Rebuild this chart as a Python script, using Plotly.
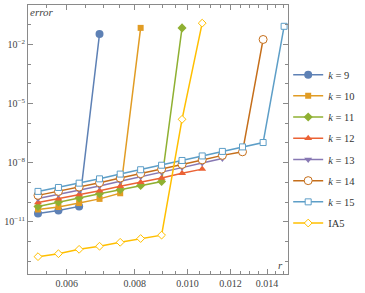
import plotly.graph_objects as go
import math

r_vals = [0.00531, 0.00579, 0.00632, 0.00689, 0.00752, 0.00820, 0.00896,
          0.00977, 0.01064, 0.01159, 0.01262, 0.01377, 0.01505]

err_k9 = [2.6e-11, 3.7e-11, 6.0e-11, 0.034]
err_k10 = [4.2e-11, 5.6e-11, 8.9e-11, 1.45e-10, 2.8e-10, 0.069]
err_k11 = [6.0e-11, 1.0e-10, 1.62e-10, 2.63e-10, 4.27e-10, 6.9e-10, 1.1e-9, 0.069]
err_k12 = [9.5e-11, 1.48e-10, 2.4e-10, 3.8e-10, 6.3e-10, 1.0e-9, 1.66e-9, 2.9e-9, 4.7e-9]
err_k13 = [1.51e-10, 2.4e-10, 3.98e-10, 6.6e-10, 1.15e-9, 1.9e-9, 3.24e-9, 5.6e-9, 9.5e-9, 1.62e-8]
err_k14 = [2.19e-10, 3.47e-10, 5.75e-10, 9.55e-10, 1.66e-9, 2.75e-9, 4.68e-9, 8.1e-9,
           1.38e-8, 2.34e-8, 3.55e-8, 0.0178]
err_k15 = [3.47e-10, 5.5e-10, 9.1e-10, 1.51e-9, 2.63e-9, 4.37e-9, 7.4e-9, 1.29e-8,
           2.19e-8, 3.72e-8, 6.3e-8, 1.05e-7, 0.083]
err_ia5 = [1.7e-13, 2.4e-13, 4.0e-13, 5.75e-13, 9.1e-13, 1.41e-12, 2.1e-12, 1.58e-6, 0.12]

series_names = ["<i>k</i> = 9", "<i>k</i> = 10", "<i>k</i> = 11", "<i>k</i> = 12",
                "<i>k</i> = 13", "<i>k</i> = 14", "<i>k</i> = 15", "IA5"]
series_vals = [err_k9, err_k10, err_k11, err_k12, err_k13, err_k14, err_k15, err_ia5]

x_tick_vals = [0.006, 0.008, 0.010, 0.012, 0.014]
x_tick_text = ["0.006", "0.008", "0.010", "0.012", "0.014"]
x_minor_vals = [0.0055, 0.0065, 0.007, 0.0075, 0.0085, 0.009, 0.0095, 0.0105,
                0.011, 0.0115, 0.0125, 0.013, 0.0135, 0.0145, 0.015]
y_tick_vals = [1e-2, 1e-5, 1e-8, 1e-11]
y_tick_text = ["10<sup>−2</sup>", "10<sup>−5</sup>", "10<sup>−8</sup>", "10<sup>−11</sup>"]
y_minor_vals = [10.0 ** (-e) for e in range(0, 14)]

colors = ["#5E81B5", "#E19C24", "#8FB032", "#EB6235", "#8778B3", "#C56E1A", "#5D9EC7", "#FFBF00"]
symbols = ["circle", "square", "diamond", "triangle-up", "triangle-down", "circle", "square", "diamond"]
sizes = [8, 6, 7, 7, 7, 8, 6, 6]
open_marker = [False, False, False, False, False, True, True, True]

fig = go.Figure()
for i, (name, vals) in enumerate(zip(series_names, series_vals)):
    c = colors[i]
    if open_marker[i]:
        marker = dict(symbol=symbols[i], size=sizes[i], color="white",
                      line=dict(color=c, width=1))
    else:
        marker = dict(symbol=symbols[i], size=sizes[i], color=c,
                      line=dict(color=c, width=0))
    fig.add_trace(go.Scatter(
        x=r_vals[:len(vals)], y=vals, mode="lines+markers", name=name,
        line=dict(color=c, width=1.5), marker=marker,
        legendgroup=f"g{i}",
    ))

axis_col = "#8a8a8a"
fig.update_layout(
    width=365, height=293,
    margin=dict(l=24, r=71, t=4, b=18),
    paper_bgcolor="white", plot_bgcolor="white",
    font=dict(family="Liberation Serif", size=10, color="#444"),
    showlegend=True,
    legend=dict(x=(370 - 24) / 270, xanchor="right", y=0.795, yanchor="top",
                font=dict(family="Liberation Serif", size=10.5, color="#333"),
                tracegroupgap=2.2, traceorder="grouped", bgcolor="rgba(0,0,0,0)"),
    xaxis=dict(type="log", range=[math.log10(0.00509), math.log10(0.0153)],
               showgrid=False, zeroline=False, showline=True, linecolor=axis_col,
               linewidth=1, mirror="ticks", ticks="inside", ticklen=5,
               tickcolor=axis_col, tickvals=x_tick_vals, ticktext=x_tick_text,
               tickfont=dict(family="Liberation Serif", size=10, color="#444"),
               minor=dict(tickvals=x_minor_vals, ticks="inside", ticklen=3,
                          tickcolor=axis_col, showgrid=False)),
    yaxis=dict(type="log", range=[-13.65, 0.0],
               showgrid=False, zeroline=False, showline=True, linecolor=axis_col,
               linewidth=1, mirror="ticks", ticks="inside", ticklen=5,
               tickcolor=axis_col, tickvals=y_tick_vals, ticktext=y_tick_text,
               tickfont=dict(family="Liberation Serif", size=10, color="#444"),
               minor=dict(tickvals=y_minor_vals, ticks="inside", ticklen=3,
                          tickcolor=axis_col, showgrid=False)),
    annotations=[
        dict(text="<i>error</i>", xref="paper", yref="paper", x=0.0, y=0.975,
             xanchor="left", yanchor="middle", showarrow=False,
             font=dict(family="Liberation Serif", size=11, color="#444")),
        dict(text="<i>r</i>", xref="paper", yref="paper", x=0.99, y=0.005,
             xanchor="right", yanchor="bottom", showarrow=False,
             font=dict(family="Liberation Serif", size=11, color="#444")),
    ],
)

fig.write_html("out.html",
               config={"displayModeBar": False},
               post_script="document.body.style.margin='0';document.body.style.overflow='hidden';")
